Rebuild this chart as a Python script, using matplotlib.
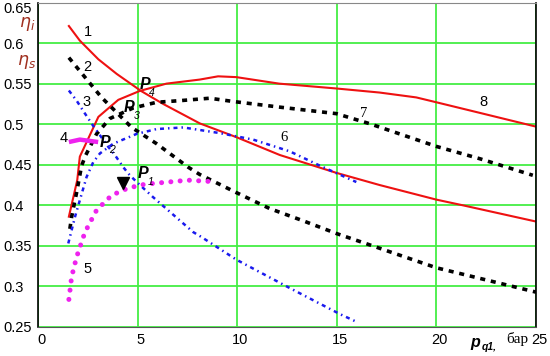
import matplotlib
matplotlib.use("Agg")
from matplotlib import pyplot as plt
import matplotlib.transforms as mtrans

### data ###

# curve 1: red, falling
x1 = [1.55, 2.1, 3.03, 3.95, 5.17, 6.28, 8.12, 9.96, 12.14, 14.98, 17.15, 20.0, 21.33, 25.0]
y1 = [0.621, 0.603, 0.580, 0.562, 0.541, 0.525, 0.501, 0.484, 0.462, 0.440, 0.425, 0.407, 0.400, 0.380]

# curve 8: red, rising
x8 = [1.55, 1.97, 2.1, 3.03, 4.03, 5.11, 6.45, 8.12, 9.04, 9.96, 12.1, 14.98, 17.15, 18.99, 20.0, 22.17, 25.0]
y8 = [0.386, 0.431, 0.460, 0.509, 0.530, 0.541, 0.550, 0.555, 0.559, 0.558, 0.550, 0.544, 0.539, 0.533, 0.527, 0.514, 0.497]

# curve 2: black dashed, falling
x2 = [1.55, 3.19, 4.7, 5.95, 7.54, 8.12, 9.93, 11.63, 13.3, 15.01, 16.8, 20.0, 25.0]
y2 = [0.582, 0.533, 0.496, 0.476, 0.447, 0.438, 0.416, 0.396, 0.381, 0.365, 0.350, 0.323, 0.293]

# curve 7: black dashed, rising
x7 = [1.6, 1.69, 1.94, 2.19, 2.4, 2.94, 3.61, 4.78, 5.95, 7.12, 8.62, 9.79, 12.14, 14.98, 16.65, 20.0, 22.17, 24.84]
y7 = [0.371, 0.386, 0.416, 0.449, 0.462, 0.488, 0.507, 0.520, 0.527, 0.529, 0.532, 0.528, 0.521, 0.513, 0.5006, 0.4726, 0.4575, 0.437]

# curve 3: blue dash-dot, falling
x3 = [1.55, 1.94, 2.36, 2.77, 3.53, 3.86, 4.28, 4.61, 5.03, 5.78, 6.62, 7.79, 8.2, 9.96, 11.72, 12.64, 15.15, 15.98]
y3 = [0.5415, 0.529, 0.513, 0.498, 0.472, 0.462, 0.447, 0.437, 0.427, 0.410, 0.392, 0.367, 0.361, 0.333, 0.310, 0.298, 0.266, 0.2565]

# curve 6: blue dash-dot, rising
x6 = [1.52, 1.86, 2.44, 2.77, 3.11, 3.78, 4.95, 5.95, 7.29, 9.13, 10.8, 12.64, 14.31, 15.98]
y6 = [0.353, 0.386, 0.435, 0.453, 0.464, 0.476, 0.488, 0.494, 0.496, 0.489, 0.481, 0.4665, 0.447, 0.4287]

# curve 5: magenta dotted
x5 = [1.55, 1.69, 1.94, 2.36, 2.94, 3.7, 4.53, 5.37, 7.54, 8.9]
y5 = [0.284, 0.312, 0.3365, 0.367, 0.394, 0.4124, 0.4213, 0.426, 0.431, 0.429]

# curve 4: short magenta segment
x4 = [1.55, 2.1, 3.02]
y4 = [0.478, 0.481, 0.478]

# black triangle marker
tri_x, tri_y = 4.25, 0.427

x_ticks = [0, 5, 10, 15, 20, 25]
y_ticks = [0.25, 0.3, 0.35, 0.4, 0.45, 0.5, 0.55, 0.6, 0.65]
y_ticklabels = ["0.25", "0.3", "0.35", "0.4", "0.45", "0.5", "0.55", "0.6", "0.65"]

# curve numbers and P points (label, x, y)
curve_labels = [("1", 2.51, 0.614), ("2", 2.46, 0.570), ("3", 2.44, 0.527), ("4", 1.27, 0.483),
                ("5", 2.47, 0.321), ("6", 12.35, 0.4835), ("7", 16.37, 0.513), ("8", 22.36, 0.527)]
p_labels = [("4", 5.37, 0.549), ("3", 4.58, 0.520), ("2", 3.36, 0.478), ("1", 5.29, 0.439)]

### plot ###

plt.rcParams['font.family'] = ['Liberation Sans', 'DejaVu Sans']
fs = 10.5

fig = plt.figure(figsize=(5.5, 3.56), dpi=100)
ax = fig.add_axes([38/550, 29/356, 498/550, 324.5/356])

ax.set_xlim(0, 25)
ax.set_ylim(0.25, 0.65)
ax.grid(True, color='#44ee44', lw=1.3)
ax.set_axisbelow(True)

ax.plot(x1, y1, color='#ee1111', lw=1.5)
ax.plot(x8, y8, color='#ee1111', lw=1.5)
ax.plot(x2, y2, color='black', lw=2.6, dashes=(1.4, 1.6))
ax.plot(x7, y7, color='black', lw=2.6, dashes=(1.4, 1.6))
ax.plot(x3, y3, color='#1a1aee', lw=1.8, dashes=(1.6, 1.6, 0.6, 1.6))
ax.plot(x6, y6, color='#1a1aee', lw=1.8, dashes=(1.6, 1.6, 0.6, 1.6))
ax.plot(x5, y5, color='#ee22ee', lw=3.6, dashes=(0.01, 1.85), dash_capstyle='round')
ax.plot(x4, y4, color='#ee22ee', lw=3.2, solid_capstyle='butt')
ax.plot([tri_x], [tri_y], marker='v', color='black', ms=8, ls='none')

for lab, x, y in curve_labels:
    fam = ['Liberation Serif'] if lab in ("6", "7") else ['Liberation Sans']
    ax.text(x, y, lab, fontsize=fs, ha='center', va='center', family=fam)

for sub, x, y in p_labels:
    ax.text(x, y, "P", fontsize=fs + 1, ha='center', va='center', fontweight='bold', style='italic')
    ax.annotate(sub, (x, y), xytext=(5, -6), textcoords='offset points', fontsize=7.5,
                ha='center', va='center', style='italic')

# axes, ticks
ax.set_xticks(x_ticks)
ax.set_yticks(y_ticks)
ax.set_yticklabels(y_ticklabels)
ax.tick_params(length=0, labelsize=fs)
ax.tick_params(axis='y', pad=25)
ax.tick_params(axis='x', pad=4)
for t in ax.get_yticklabels():
    t.set_horizontalalignment('left')
# top label sits a bit lower in the reference
top_lab = ax.get_yticklabels()[-1]
top_lab.set_transform(top_lab.get_transform() + mtrans.ScaledTranslation(0, -5/100, fig.dpi_scale_trans))
off = mtrans.ScaledTranslation(3/100, 0, fig.dpi_scale_trans)
for t in ax.get_xticklabels():
    t.set_transform(t.get_transform() + off)

for side in ['left', 'right']:
    ax.spines[side].set_color('black')
    ax.spines[side].set_linewidth(1.2)
ax.spines['bottom'].set_color('#555555')
ax.spines['top'].set_color('#888888')

# efficiency symbols on the y side
eta_col = '#a03020'
fig.text(27/550, 1 - 24/356, r'$\eta_i$', color=eta_col, fontsize=12.5, ha='center', va='center')
fig.text(27/550, 1 - 62/356, r'$\eta_s$', color=eta_col, fontsize=12.5, ha='center', va='center')

# x axis label
fig.text(475/550, 1 - 342/356, "p", fontsize=11.5, fontweight='bold', style='italic', ha='center', va='center')
fig.text(489/550, 1 - 347/356, "q1,", fontsize=7.5, fontweight='bold', style='italic', ha='center', va='center')
fig.text(517/550, 1 - 339/356, "бар", fontsize=11, family=['Liberation Serif'], ha='center', va='center')

fig.savefig("out.png", dpi=100)
